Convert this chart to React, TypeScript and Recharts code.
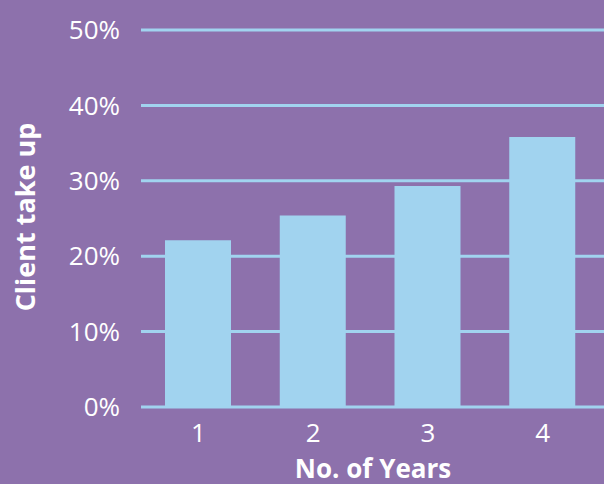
import { BarChart, Bar, XAxis, YAxis, CartesianGrid, Label } from 'recharts'

const years = ['1', '2', '3', '4']
const takeUp = [22.1, 25.4, 29.3, 35.8]
const yTicks = [0, 10, 20, 30, 40, 50]

const data = years.map((year, i) => ({ year, takeUp: takeUp[i] }))

const BG = '#8D71AC'
const BLUE = '#A1D3EF'
const FONT = '"Open Sans", Lato, sans-serif'

export default function App() {
  return (
    <div
      style={{
        position: 'absolute',
        left: 0,
        top: 0,
        width: 604,
        height: 484,
        background: BG,
      }}
    >
      <BarChart
        width={604}
        height={484}
        data={data}
        margin={{ top: 30, right: 0, bottom: 0, left: 0 }}
      >
        <CartesianGrid
          horizontal
          vertical={false}
          stroke={BLUE}
          strokeWidth={3}
        />
        <XAxis
          dataKey="year"
          axisLine={false}
          tickLine={false}
          tickSize={6}
          tickMargin={11}
          padding={{ left: 0, right: 4 }}
          tick={{ fill: '#fff', fontSize: 26, fontFamily: FONT }}
          height={77}
        >
          <Label
            content={() => (
              <text
                x={373}
                y={478}
                textAnchor="middle"
                fill="#fff"
                fontSize={26}
                fontWeight={700}
                fontFamily={FONT}
              >
                No. of Years
              </text>
            )}
          />
        </XAxis>
        <YAxis
          domain={[0, 50]}
          ticks={yTicks}
          axisLine={false}
          tickLine={false}
          tickSize={6}
          tickMargin={15}
          width={141}
          tickFormatter={(v) => `${v}%`}
          tick={{ fill: '#fff', fontSize: 26, fontFamily: FONT }}
        >
          <Label
            content={() => (
              <text
                x={24}
                y={217}
                transform="rotate(-90 24 217)"
                textAnchor="middle"
                dominantBaseline="central"
                fill="#fff"
                fontSize={27}
                fontWeight={700}
                fontFamily={FONT}
              >
                Client take up
              </text>
            )}
          />
        </YAxis>
        <Bar dataKey="takeUp" fill={BLUE} barSize={66} isAnimationActive={false} />
      </BarChart>
    </div>
  )
}
